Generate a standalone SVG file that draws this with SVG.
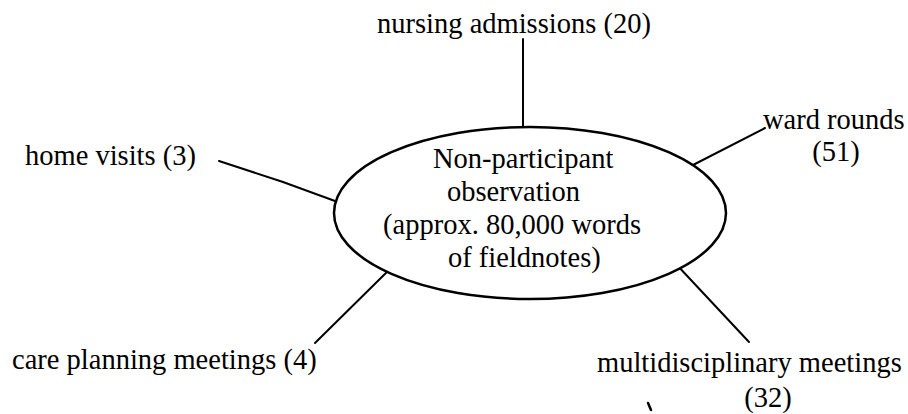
<svg xmlns="http://www.w3.org/2000/svg" width="908" height="414" viewBox="0 0 908 414">
  <style>
    text { font-family: "Liberation Serif", "Times New Roman", serif; font-size: 28.5px; fill: #000; }
    .c { fill: none; stroke: #000; stroke-width: 2; stroke-linecap: round; stroke-linejoin: round; }
    .e { fill: #fff; stroke: #000; stroke-width: 2.5; }
  </style>
  <rect width="908" height="414" fill="#fff"/>
  <g id="connectors">
    <line class="c" x1="523" y1="39" x2="523" y2="136"/>
    <polyline class="c" points="219,161 283,182 335,201"/>
    <line class="c" x1="693" y1="165" x2="765" y2="128"/>
    <line class="c" x1="315" y1="343" x2="392" y2="267"/>
    <line class="c" x1="676" y1="264" x2="749" y2="342"/>
  </g>
  <g id="center">
    <ellipse class="e" cx="530" cy="213" rx="196" ry="86"/>
    <text x="433" y="168">Non-participant</text>
    <text x="447" y="201">observation</text>
    <text x="383" y="234">(approx. 80,000 words</text>
    <text x="448" y="267">of fieldnotes)</text>
  </g>
  <g id="nursing">
    <text x="377" y="33">nursing admissions (20)</text>
  </g>
  <g id="home">
    <text x="25" y="165">home visits (3)</text>
  </g>
  <g id="ward">
    <text x="763" y="129">ward rounds</text>
    <text x="836" y="161" text-anchor="middle">(51)</text>
  </g>
  <g id="care">
    <text x="12" y="369">care planning meetings (4)</text>
  </g>
  <g id="mdt">
    <text x="597" y="372">multidisciplinary meetings</text>
    <text x="768" y="407" text-anchor="middle">(32)</text>
  </g>
  <path d="M648,403 L651,410" stroke="#000" stroke-width="2.5" stroke-linecap="round" fill="none"/>
</svg>
